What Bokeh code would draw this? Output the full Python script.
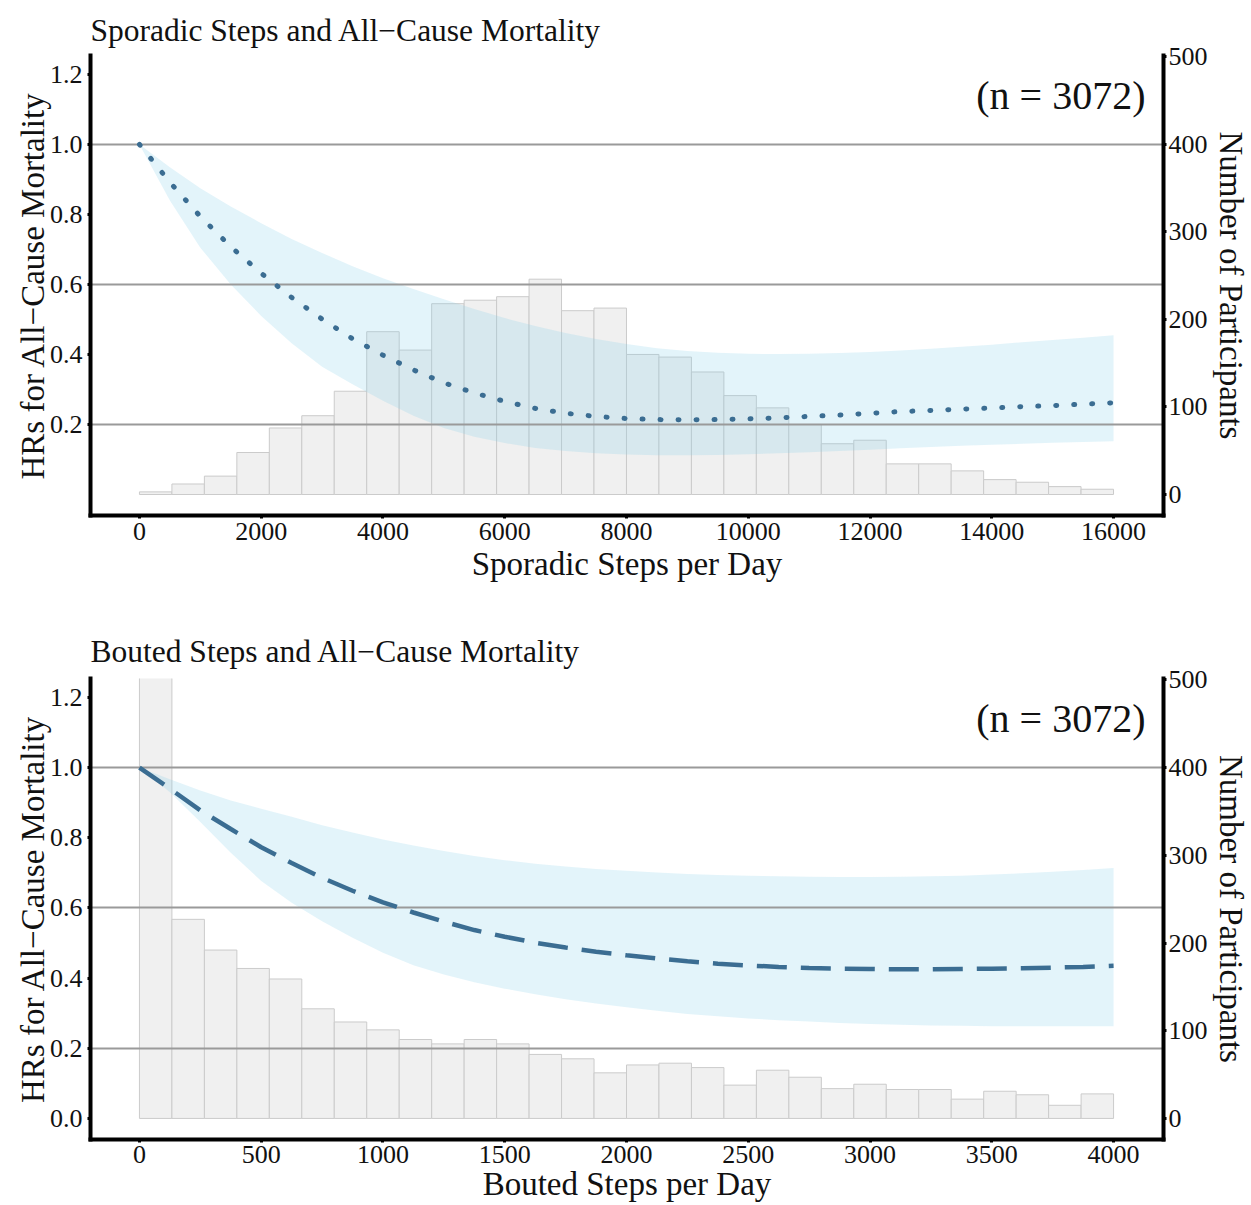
from bokeh.plotting import figure
from bokeh.models import Range1d, LinearAxis, FixedTicker, Label, PrintfTickFormatter
from bokeh.layouts import column
from bokeh.embed import file_html
from bokeh.resources import INLINE

# ---------------- data: sporadic steps ----------------
sporadic_bin_start = 0
sporadic_bin_end = 16000
sporadic_counts = [3, 12, 21, 48, 76, 90, 118, 186, 165, 218, 222, 226, 246, 210, 213,
                   160, 157, 140, 113, 99, 80, 58, 62, 35, 35, 27, 17, 14, 9, 6]
sporadic_steps = [0, 500, 1000, 1500, 2000, 2500, 3000, 3500, 4000, 4500, 5000, 5500,
                  6000, 6500, 7000, 7500, 8000, 8500, 9000, 9500, 10000, 10500, 11000,
                  11500, 12000, 12500, 13000, 13500, 14000, 14500, 15000, 15500, 16000]
sporadic_hr = [1.0, 0.892, 0.794, 0.708, 0.632, 0.563, 0.501, 0.445, 0.398, 0.356, 0.319,
               0.29, 0.266, 0.246, 0.232, 0.223, 0.217, 0.214, 0.213, 0.214, 0.216, 0.219,
               0.223, 0.227, 0.232, 0.237, 0.24, 0.244, 0.247, 0.251, 0.254, 0.258, 0.262]
sporadic_upper = [1.0, 0.935, 0.875, 0.823, 0.775, 0.73, 0.69, 0.652, 0.618, 0.587, 0.558,
                  0.53, 0.504, 0.481, 0.461, 0.444, 0.43, 0.418, 0.41, 0.405, 0.402, 0.401,
                  0.402, 0.404, 0.407, 0.411, 0.416, 0.422, 0.428, 0.435, 0.441, 0.448, 0.455]
sporadic_lower = [1.0, 0.84, 0.705, 0.6, 0.51, 0.432, 0.365, 0.315, 0.268, 0.225, 0.19,
                  0.165, 0.147, 0.133, 0.124, 0.118, 0.114, 0.112, 0.112, 0.113, 0.115, 0.118,
                  0.121, 0.124, 0.128, 0.132, 0.136, 0.139, 0.142, 0.145, 0.148, 0.15, 0.152]
sporadic_xticks = [0, 2000, 4000, 6000, 8000, 10000, 12000, 14000, 16000]

# ---------------- data: bouted steps ----------------
bouted_bin_start = 0
bouted_bin_end = 4000
bouted_counts = [780, 227, 192, 171, 159, 125, 110, 101, 90, 85, 90, 85, 73, 68, 52,
                 61, 63, 58, 38, 55, 47, 34, 39, 33, 33, 22, 31, 27, 15, 28]
bouted_steps = [0, 125, 250, 375, 500, 625, 750, 875, 1000, 1125, 1250, 1375, 1500, 1625,
                1750, 1875, 2000, 2125, 2250, 2375, 2500, 2625, 2750, 2875, 3000, 3125,
                3250, 3375, 3500, 3625, 3750, 3875, 4000]
bouted_hr = [1.0, 0.94, 0.878, 0.825, 0.773, 0.728, 0.686, 0.649, 0.616, 0.587, 0.561,
             0.537, 0.518, 0.501, 0.487, 0.475, 0.465, 0.456, 0.448, 0.441, 0.436, 0.432,
             0.429, 0.427, 0.426, 0.425, 0.425, 0.426, 0.427, 0.428, 0.43, 0.432, 0.435]
bouted_upper = [1.0, 0.967, 0.935, 0.906, 0.883, 0.86, 0.836, 0.815, 0.795, 0.778, 0.762,
                0.748, 0.736, 0.726, 0.718, 0.711, 0.706, 0.701, 0.697, 0.694, 0.692, 0.69,
                0.689, 0.688, 0.688, 0.689, 0.69, 0.692, 0.695, 0.699, 0.703, 0.708, 0.714]
bouted_lower = [1.0, 0.93, 0.845, 0.757, 0.677, 0.615, 0.562, 0.515, 0.472, 0.437, 0.41,
                0.388, 0.37, 0.354, 0.34, 0.328, 0.317, 0.307, 0.298, 0.291, 0.285, 0.28,
                0.276, 0.272, 0.269, 0.267, 0.265, 0.264, 0.263, 0.263, 0.263, 0.263, 0.263]
bouted_xticks = [0, 500, 1000, 1500, 2000, 2500, 3000, 3500, 4000]

hr_ticks_top = [0.2, 0.4, 0.6, 0.8, 1.0, 1.2]
hr_ticks_bottom = [0.0, 0.2, 0.4, 0.6, 0.8, 1.0, 1.2]
count_ticks = [0, 100, 200, 300, 400, 500]
grid_values = [0.2, 0.6, 1.0]
count_per_hr = 400
sample_label = "(n = 3072)"

FONT = "Liberation Serif"
CURVE = "#3b6d92"


def panel(title, xlabel, xr, xticks, yticks, b0, b1, counts, xs, hr, lo, hi,
          dash, height, btop, bbottom, x_standoffs, title_standoff, ylim=(-0.06, 1.254)):
    p = figure(width=1251, height=height, x_range=Range1d(*xr), y_range=Range1d(*ylim),
               output_backend="svg", toolbar_location=None,
               min_border_left=90, min_border_right=87,
               min_border_top=btop, min_border_bottom=bbottom)
    p.extra_y_ranges = {"count": Range1d(ylim[0] * count_per_hr, ylim[1] * count_per_hr)}
    p.xgrid.visible = False
    p.ygrid.visible = False
    p.outline_line_color = None
    p.background_fill_color = "white"
    p.border_fill_color = "white"

    n = len(counts)
    w = (b1 - b0) / n
    lefts = [b0 + i * w for i in range(n)]
    rights = [b0 + (i + 1) * w for i in range(n)]
    p.quad(left=lefts, right=rights, bottom=[0] * n, top=counts, y_range_name="count",
           fill_color="#f0f0f0", line_color="#cbcbcb", line_width=1)
    p.varea(x=xs, y1=lo, y2=hi, fill_color="#87ceeb", fill_alpha=0.23)
    p.hspan(y=grid_values, line_color="#9a9a9a", line_width=2)
    if dash == "dotted":
        p.line(xs, hr, line_color=CURVE, line_width=5, line_dash="1 17", line_cap="round")
    else:
        p.line(xs, hr, line_color=CURVE, line_width=4.5, line_dash="30 14")

    ax = p.xaxis[0]
    ax.ticker = FixedTicker(ticks=xticks)
    ax.axis_label = xlabel
    ay = p.yaxis[0]
    ay.ticker = FixedTicker(ticks=yticks)
    ay.formatter = PrintfTickFormatter(format="%.1f")
    ay.axis_label = "HRs for All\u2212Cause Mortality"
    ry = LinearAxis(y_range_name="count", ticker=FixedTicker(ticks=count_ticks),
                    axis_label="Number of Participants")
    p.add_layout(ry, "right")
    for a in (ax, ay, ry):
        a.axis_line_width = 4
        a.axis_line_color = "black"
        a.axis_line_cap = "square"
        a.major_tick_out = 3
        a.major_tick_in = 0
        a.major_tick_line_width = 3
        a.major_tick_line_color = "black"
        a.minor_tick_out = 0
        a.minor_tick_in = 0
        a.major_label_text_font = FONT
        a.major_label_text_font_size = "26px"
        a.major_label_text_color = "#111111"
        a.axis_label_text_font = FONT
        a.axis_label_text_font_size = "33px"
        a.axis_label_text_font_style = "normal"
        a.axis_label_text_color = "#111111"
    ax.major_label_standoff = x_standoffs[0]
    ax.axis_label_standoff = x_standoffs[1]
    ay.major_label_standoff = 5
    ay.axis_label_standoff = -4
    ry.major_label_standoff = 2
    ry.axis_label_standoff = 2

    p.title.text = title
    p.title.text_font = FONT
    p.title.text_font_size = "31.5px"
    p.title.text_font_style = "normal"
    p.title.text_color = "#111111"
    p.title.align = "left"
    p.title.standoff = title_standoff

    p.add_layout(Label(x=xr[1] - (xr[1] - xr[0]) * 0.0168, y=1.14, text=sample_label,
                       text_align="right", text_baseline="middle",
                       text_font=FONT, text_font_size="40px", text_color="#111111"))
    return p


top = panel("Sporadic Steps and All\u2212Cause Mortality", "Sporadic Steps per Day",
            (-804, 16821), sporadic_xticks, hr_ticks_top, sporadic_bin_start, sporadic_bin_end,
            sporadic_counts, sporadic_steps, sporadic_hr, sporadic_lower, sporadic_upper,
            "dotted", 595, 55, 80, (4, 3), 16)
bottom = panel("Bouted Steps and All\u2212Cause Mortality", "Bouted Steps per Day",
               (-201, 4205), bouted_xticks, hr_ticks_bottom, bouted_bin_start, bouted_bin_end,
               bouted_counts, bouted_steps, bouted_hr, bouted_lower, bouted_upper,
               "dashed", 610, 83, 66, (3, 0), 19)

layout = column(top, bottom, spacing=0)
open("out.html", "w").write(file_html(layout, INLINE))
